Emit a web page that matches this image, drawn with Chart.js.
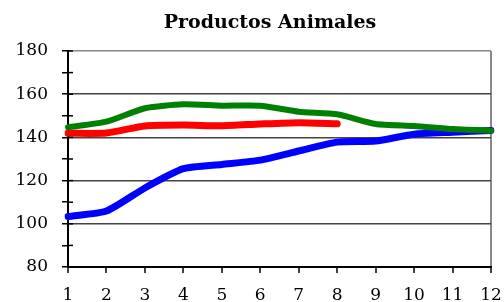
<!DOCTYPE html>
<html>
<head>
<meta charset="utf-8">
<script src="https://cdn.jsdelivr.net/npm/chart.js@4/dist/chart.umd.min.js"></script>
<style>
html,body{margin:0;padding:0;background:#fff;}
#wrap{width:504px;height:302px;position:relative;}
</style>
</head>
<body>
<div id="wrap"><canvas id="c" width="504" height="302"></canvas></div>
<script>
const titleText = 'Productos Animales';
const categories = ['1','2','3','4','5','6','7','8','9','10','11','12'];
const seriesGreen = [144.7,147.3,153.5,155.3,154.7,154.7,151.9,150.7,146.2,145.3,143.9,143.1];
const seriesRed   = [141.9,142.0,145.3,145.7,145.4,146.2,146.8,146.3,null,null,null,null];
const seriesBlue  = [103.4,105.9,116.6,125.5,127.5,129.5,133.7,137.8,138.3,141.5,142.4,143.2];
const yMin = 80, yMax = 180, yStep = 10;

const serif = "'DejaVu Serif', 'Liberation Serif', serif";

const extras = {
  id: 'extras',
  afterDraw(chart) {
    const ctx = chart.ctx;
    const y = chart.scales.y;
    const a = chart.chartArea;
    ctx.save();
    ctx.strokeStyle = '#000';
    ctx.lineWidth = 1.5;
    y.ticks.forEach(t => {
      const py = y.getPixelForValue(t.value);
      ctx.beginPath();
      ctx.moveTo(a.left, py);
      ctx.lineTo(a.left + 5, py);
      ctx.stroke();
    });
    ctx.fillStyle = '#000';
    ctx.font = "bold 19px " + serif;
    ctx.textAlign = 'center';
    ctx.textBaseline = 'middle';
    ctx.fillText(titleText, 270, 23);
    ctx.restore();
  }
};

new Chart(document.getElementById('c'), {
  type: 'line',
  data: {
    labels: categories,
    datasets: [
      {data: seriesGreen, borderColor: '#008000', borderWidth: 6, pointRadius: 0, tension: 0.2, borderCapStyle: 'round', borderJoinStyle: 'round', fill: false},
      {data: seriesRed, borderColor: '#FF0000', borderWidth: 7, pointRadius: 0, tension: 0.2, borderCapStyle: 'round', borderJoinStyle: 'round', fill: false, spanGaps: false},
      {data: seriesBlue, borderColor: '#0000FF', borderWidth: 7, pointRadius: 0, tension: 0.2, borderCapStyle: 'round', borderJoinStyle: 'round', fill: false}
    ]
  },
  options: {
    responsive: false,
    animation: false,
    devicePixelRatio: 1,
    layout: {padding: {top: 51, right: 13, left: 0, bottom: 0}},
    plugins: {legend: {display: false}, tooltip: {enabled: false}, title: {display: false}},
    scales: {
      x: {
        offset: false,
        grid: {
          drawOnChartArea: true,
          color: c => (c.index === categories.length - 1 ? '#888' : 'rgba(0,0,0,0)'),
          lineWidth: 2,
          tickColor: '#000',
          tickLength: 6,
          tickWidth: 1.5
        },
        border: {color: '#000', width: 2},
        ticks: {color: '#000', font: {family: serif, size: 17}, padding: 12, maxRotation: 0, autoSkip: false},
        afterFit: s => { s.height = 35; s.paddingRight = 0; s.paddingLeft = 0; }
      },
      y: {
        min: yMin, max: yMax,
        grid: {
          color: c => (c.tick.value === yMax ? '#888' : (c.tick.value % 20 === 0 ? '#444' : 'rgba(0,0,0,0)')),
          lineWidth: 1.5,
          tickColor: '#000',
          tickLength: 6,
          tickWidth: 1.5
        },
        border: {color: '#000', width: 2},
        ticks: {
          stepSize: yStep, autoSkip: false, color: '#000', padding: 14,
          font: {family: serif, size: 17},
          callback: v => (v % 20 === 0 ? String(v) : '')
        },
        afterFit: s => { s.width = 68; s.paddingTop = 0; s.paddingBottom = 0; }
      }
    }
  },
  plugins: [extras]
});
</script>
</body>
</html>
